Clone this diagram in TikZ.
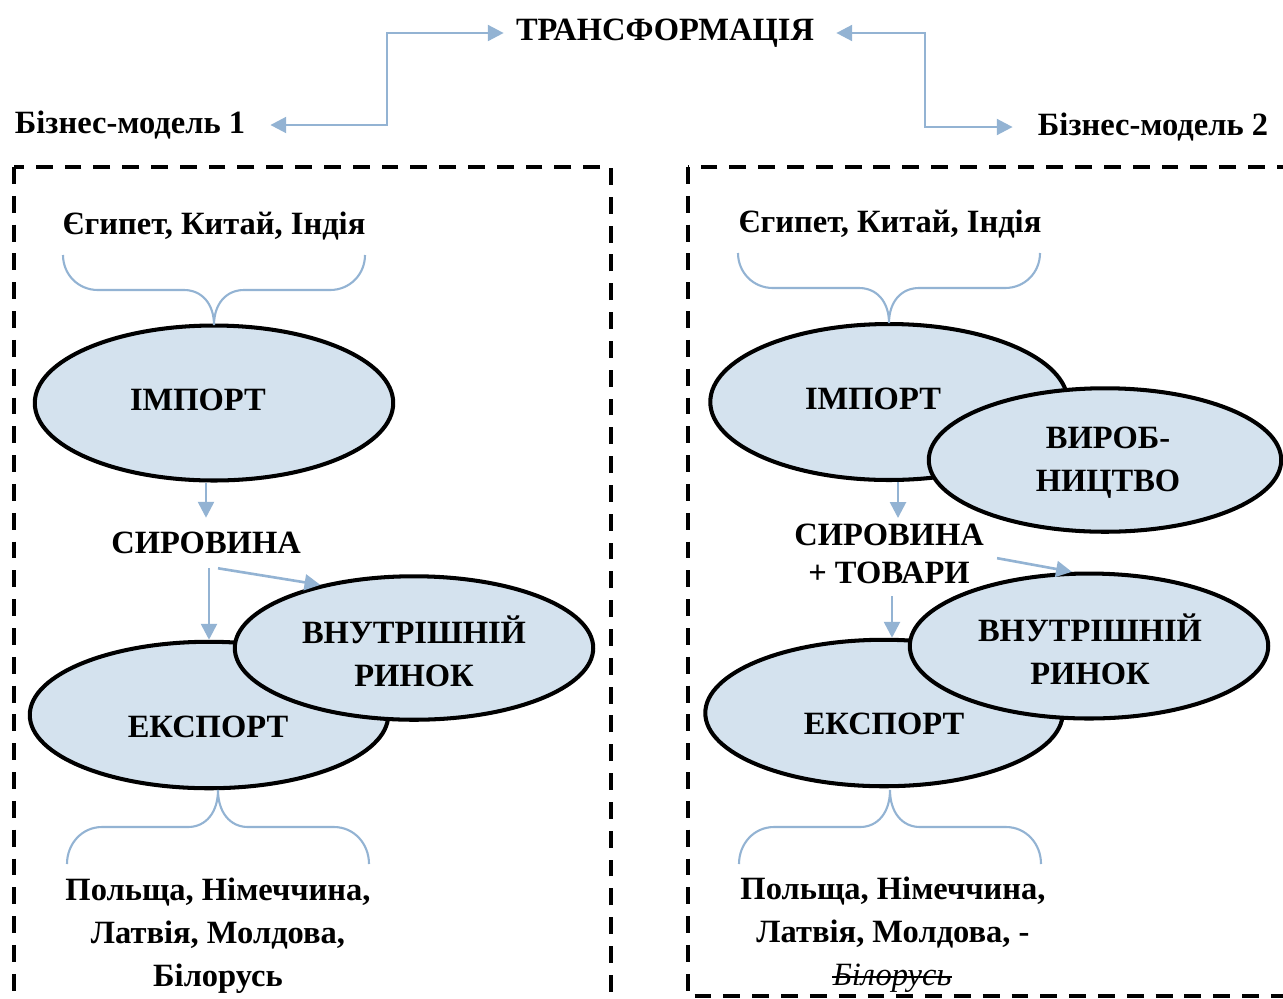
\documentclass[tikz,border=0pt]{standalone}
\usepackage{fontspec}
\setmainfont{Liberation Serif}
\usetikzlibrary{arrows.meta, shapes.geometric, positioning, calc}

\definecolor{linkblue}{HTML}{93B3D3}
\definecolor{ovalfill}{HTML}{D4E2EE}

\tikzset{
  txt/.style={font=\bfseries\fontsize{18.5}{24.4}\selectfont, align=center, inner sep=0pt},
  oval/.style={ellipse, draw, line width=2.3pt, fill=ovalfill, inner sep=0pt},
  flow/.style={draw=linkblue, line width=1.5pt, -{Triangle[length=9pt,width=9pt]}},
  twoway/.style={draw=linkblue, line width=1.5pt, {Triangle[length=9pt,width=9pt]}-{Triangle[length=9pt,width=9pt]}},
  curly/.style={draw=linkblue, line width=1.2pt},
  frame/.style={line width=2.1pt, dash pattern=on 9.6pt off 6.8pt}
}

\begin{document}
\begin{tikzpicture}[x=0.02cm, y=-0.02cm]
\def\px{0.02cm}
\useasboundingbox (0,0) rectangle (1283,998);
\clip (0,0) rectangle (1283,998);

% top row
\node[txt] (title) at (665,33) {ТРАНСФОРМАЦІЯ};
\node[txt] (bm1) at (130,125) {Бізнес-модель 1};
\node[txt] (bm2) at (1153,127) {Бізнес-модель 2};
\coordinate (kl) at (387,0);
\coordinate (kr) at (925,0);
\draw[twoway, shorten <=12*\px, shorten >=25*\px] (title.west) -| (kl |- bm1.east) -- (bm1.east);
\draw[twoway, shorten <=22*\px, shorten >=25*\px] (title.east) -| (kr |- bm2.west) -- (bm2.west);

% frames
\draw[frame] (14,167) rectangle (611,1030);
\draw[frame] (688,167) rectangle (1300,996);

% left model
\node[txt] (eg1) at (214,226) {Єгипет, Китай, Індія};
\node[oval, minimum width=7.17cm, minimum height=3.1cm] (imp1) at (214,403) {};
\node[txt] (imp1t) at (198,400) {ІМПОРТ};
\node[txt] (syr1) at (206,543) {СИРОВИНА};
\node[oval, minimum width=7.17cm, minimum height=2.93cm] (exp1) at (209,715) {};
\node[txt] (exp1t) at (208,727) {ЕКСПОРТ};
\node[oval, minimum width=7.17cm, minimum height=2.87cm] (vn1) at (414,648) {};
\node[txt] (vn1t) at (414,651) {ВНУТРІШНІЙ\\РИНОК};
\node[txt, anchor=north] (pl1) at (218,878) {Польща, Німеччина,\\Латвія, Молдова,\\Білорусь};

\draw[flow, shorten >=14*\px] (imp1.south -| syr1.north) -- (syr1.north);
\draw[flow, shorten <=14*\px] (syr1.south -| exp1.north) -- (exp1.north);
\draw[flow] ([shift={(12,14)}]syr1.south) -- (vn1.146);

% right model
\node[txt] (eg2) at (890,224) {Єгипет, Китай, Індія};
\node[oval, minimum width=7.15cm, minimum height=3.12cm] (imp2) at (889,402) {};
\node[txt] (imp2t) at (873,399) {ІМПОРТ};
\node[oval, minimum width=7.05cm, minimum height=2.87cm] (vyr2) at (1105,460) {};
\node[txt] (vyr2t) at (1108,463) {ВИРОБ-\\НИЦТВО};
\node[txt, anchor=north, font=\bfseries\fontsize{18.5}{21.5}\selectfont] (syr2) at (889,524) {СИРОВИНА\\+ ТОВАРИ};
\node[oval, minimum width=7.15cm, minimum height=2.93cm] (exp2) at (884,713) {};
\node[txt] (exp2t) at (884,724) {ЕКСПОРТ};
\node[oval, minimum width=7.17cm, minimum height=2.9cm] (vn2) at (1089,646) {};
\node[txt] (vn2t) at (1090,649) {ВНУТРІШНІЙ\\РИНОК};
\node[txt, anchor=north] (pl2) at (893,877) {Польща, Німеччина,\\Латвія, Молдова, -};
\node[txt, anchor=base, font=\itshape\fontsize{18.5}{24.4}\selectfont] (bel2) at (892,985) {Білорусь};
\draw[line width=1pt] ([yshift=8*\px]bel2.base west) -- ([yshift=8*\px]bel2.base east);

\coordinate (i2) at ([xshift=9*\px]imp2.south);
\coordinate (e2) at ([xshift=8*\px]exp2.north);
\draw[flow, shorten >=6*\px] (i2) -- (i2 |- syr2.north);
\draw[flow, shorten <=12*\px] (syr2.south -| e2) -- (e2);
\draw[flow] ([shift={(13,4)}]syr2.east) -- (vn2.103);

% braces
\foreach \bx/\by/\bd/\bh in {214/325/-1/35, 889/323/-1/35, 218/790/1/37, 890/790/1/37}
  \draw[curly] ({\bx-151},{\by+2*\bh*\bd}) .. controls ({\bx-151},{\by+1.45*\bh*\bd}) and ({\bx-136},{\by+\bh*\bd}) .. ({\bx-116},{\by+\bh*\bd})
    -- ({\bx-30},{\by+\bh*\bd}) .. controls ({\bx-12},{\by+\bh*\bd}) and ({\bx},{\by+0.6*\bh*\bd}) .. (\bx,\by)
    .. controls ({\bx},{\by+0.6*\bh*\bd}) and ({\bx+12},{\by+\bh*\bd}) .. ({\bx+30},{\by+\bh*\bd})
    -- ({\bx+116},{\by+\bh*\bd}) .. controls ({\bx+136},{\by+\bh*\bd}) and ({\bx+151},{\by+1.45*\bh*\bd}) .. ({\bx+151},{\by+2*\bh*\bd});
\end{tikzpicture}
\end{document}
